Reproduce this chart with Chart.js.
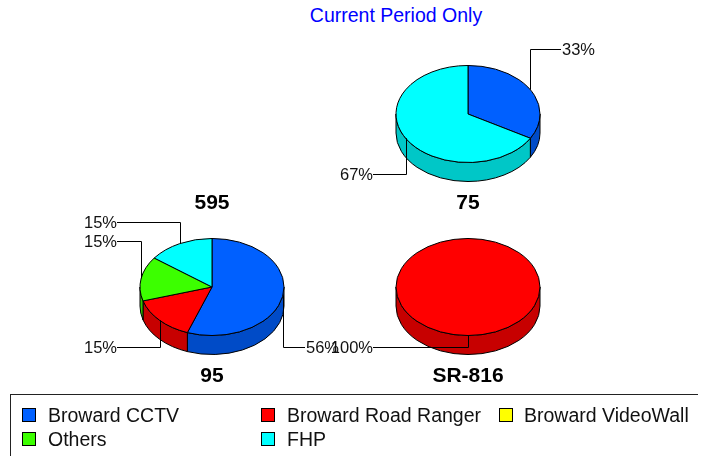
<!DOCTYPE html>
<html>
<head>
<meta charset="utf-8">
<title>Current Period Only</title>
<script src="https://cdn.jsdelivr.net/npm/chart.js@4.4.0/dist/chart.umd.min.js"></script>
<style>
    html, body { margin: 0; padding: 0; background: #fff; }
    body {
        position: relative;
        width: 707px;
        height: 456px;
        overflow: hidden;
        font-family: "Liberation Sans", Arial, sans-serif;
    }
    #title {
        position: absolute;
        left: 296px;
        top: 5px;
        width: 200px;
        text-align: center;
        color: #0000ff;
        font-size: 19.5px;
        line-height: 20px;
        white-space: nowrap;
    }
    .pie-canvas { position: absolute; left: 0; top: 0; }
    #legend {
        position: absolute;
        left: 10px;
        top: 394px;
        width: 687px;
        height: 70px;
        border-top: 1px solid #222;
        border-left: 1px solid #222;
    }
    .legend-swatch {
        position: absolute;
        width: 12px;
        height: 12px;
        border: 1px solid #000;
    }
    .legend-text {
        position: absolute;
        font-size: 19.5px;
        line-height: 20px;
        color: #111;
        white-space: nowrap;
    }
</style>
</head>
<body>
<div id="title">Current Period Only</div>
<canvas id="pie-595" class="pie-canvas" width="707" height="392"></canvas>
<canvas id="pie-75" class="pie-canvas" width="707" height="392"></canvas>
<canvas id="pie-95" class="pie-canvas" width="707" height="392"></canvas>
<canvas id="pie-sr816" class="pie-canvas" width="707" height="392"></canvas>
<div id="legend"></div>

<script>
(function () {
    'use strict';

    // Categories shared by every pie
    var categories = ['Broward CCTV', 'Broward Road Ranger', 'Broward VideoWall', 'Others', 'FHP'];

    // Counts per road, same order as categories
    var pieNames = ['595', '75', '95', 'SR-816'];
    var values595 = [0, 0, 0, 0, 0];
    var values75 = [1, 0, 0, 0, 2];
    var values95 = [15, 4, 0, 4, 4];
    var valuesSR816 = [0, 1, 0, 0, 0];

    // Slice colours (top face); side walls are a darker shade
    var sliceColors = ['#0060ff', '#ff0000', '#ffff00', '#3cff00', '#00ffff'];

    // Pie geometry
    var pieLayout = {
        radius: 72,      // horizontal radius
        tilt: 0.674,     // vertical squash of the top face
        depth: 19,       // wall height
        canvasW: 707,
        canvasH: 392
    };
    var pieCenters = [[212, 114], [468, 114], [212, 287], [468, 287]];

    var FONT = '"Liberation Sans", Arial, sans-serif';

    function shade(hex, f) {
        var n = parseInt(hex.slice(1), 16);
        var r = Math.round(((n >> 16) & 255) * f);
        var g = Math.round(((n >> 8) & 255) * f);
        var b = Math.round((n & 255) * f);
        return 'rgb(' + r + ',' + g + ',' + b + ')';
    }

    // Draws the arcs computed by the pie controller as a tilted 3D pie,
    // then the leader lines, percentages and the road name underneath
    var pie3d = {
        id: 'pie3d',
        beforeDatasetsDraw: function (chart) {
            var ctx = chart.ctx;
            var area = chart.chartArea;
            var arcs = chart.getDatasetMeta(0).data;
            var data = chart.data.datasets[0].data;
            var colors = chart.data.datasets[0].backgroundColor;
            var name = chart.options.plugins.pie3d.name;

            var cx = (area.left + area.right) / 2;
            var cy = (area.top + area.bottom) / 2;
            var a = arcs.length ? arcs[0].outerRadius : pieLayout.radius;
            var b = a * pieLayout.tilt;
            var d = pieLayout.depth;

            var total = data.reduce(function (s, v) { return s + v; }, 0);
            var slices = [];
            arcs.forEach(function (arc, i) {
                if (data[i] > 0 && arc.endAngle > arc.startAngle) {
                    slices.push({ s: arc.startAngle, e: arc.endAngle, color: colors[i], value: data[i] });
                }
            });

            ctx.save();
            ctx.lineWidth = 1;
            ctx.strokeStyle = '#000';
            ctx.lineJoin = 'round';

            // Side walls: only the front half of the rim (0..PI) is visible
            slices.forEach(function (sl) {
                var t1 = Math.max(sl.s, 0);
                var t2 = Math.min(sl.e, Math.PI);
                if (t2 <= t1) return;
                ctx.beginPath();
                ctx.ellipse(cx, cy, a, b, 0, t1, t2);
                ctx.lineTo(cx + a * Math.cos(t2), cy + d + b * Math.sin(t2));
                ctx.ellipse(cx, cy + d, a, b, 0, t2, t1, true);
                ctx.closePath();
                ctx.fillStyle = shade(sl.color, 0.78);
                ctx.fill();
                ctx.stroke();
            });

            // Top faces
            slices.forEach(function (sl) {
                ctx.beginPath();
                if (sl.e - sl.s >= Math.PI * 2 - 1e-6) {
                    ctx.ellipse(cx, cy, a, b, 0, 0, Math.PI * 2);
                } else {
                    ctx.moveTo(cx, cy);
                    ctx.ellipse(cx, cy, a, b, 0, sl.s, sl.e);
                    ctx.closePath();
                }
                ctx.fillStyle = sl.color;
                ctx.fill();
                ctx.stroke();
            });

            // Leader lines and percentage labels
            var labels = slices.map(function (sl) {
                var m = (sl.s + sl.e) / 2;
                return {
                    px: cx + a * Math.cos(m),
                    py: cy + b * Math.sin(m),
                    right: Math.cos(m) > 1e-6,
                    down: Math.sin(m) > 0,
                    text: Math.round(sl.value / total * 100) + '%'
                };
            });
            [[true, true], [true, false], [false, true], [false, false]].forEach(function (grp) {
                var list = labels.filter(function (l) { return l.right === grp[0] && l.down === grp[1]; });
                list.sort(function (p, q) { return grp[1] ? q.py - p.py : p.py - q.py; });
                list.forEach(function (l, k) {
                    l.ty = grp[1] ? cy + 59.5 - k * 19 : cy - 65 + k * 19;
                });
            });

            ctx.font = '16.5px ' + FONT;
            ctx.textBaseline = 'middle';
            ctx.fillStyle = '#111';
            labels.forEach(function (l) {
                var x0 = Math.round(l.px) + 0.5;
                var ty = Math.round(l.ty) + 0.5;
                var ex = l.right ? cx + a + 21 : cx - a - 23;
                ctx.beginPath();
                ctx.moveTo(x0, l.py);
                ctx.lineTo(x0, ty);
                ctx.lineTo(ex, ty);
                ctx.stroke();
                ctx.textAlign = l.right ? 'left' : 'right';
                ctx.fillText(l.text, l.right ? ex + 1 : ex, ty + 1);
            });

            // Road name under the pie
            ctx.font = 'bold 21px ' + FONT;
            ctx.textAlign = 'center';
            ctx.textBaseline = 'alphabetic';
            ctx.fillStyle = '#000';
            ctx.fillText(name, cx, cy + b + d + 27.5);

            ctx.restore();
            return false;
        }
    };

    function buildPie(canvasId, values, name, center) {
        var r = pieLayout.radius;
        return new Chart(document.getElementById(canvasId), {
            type: 'pie',
            data: {
                labels: categories,
                datasets: [{
                    data: values,
                    backgroundColor: sliceColors,
                    borderWidth: 0,
                    hoverBorderWidth: 0,
                    radius: r
                }]
            },
            options: {
                responsive: false,
                animation: false,
                devicePixelRatio: 1,
                events: [],
                layout: {
                    padding: {
                        left: center[0] - r,
                        right: pieLayout.canvasW - center[0] - r,
                        top: center[1] - r,
                        bottom: pieLayout.canvasH - center[1] - r
                    }
                },
                plugins: {
                    legend: { display: false },
                    tooltip: { enabled: false },
                    pie3d: { name: name }
                }
            },
            plugins: [pie3d]
        });
    }

    buildPie('pie-595', values595, pieNames[0], pieCenters[0]);
    buildPie('pie-75', values75, pieNames[1], pieCenters[1]);
    buildPie('pie-95', values95, pieNames[2], pieCenters[2]);
    buildPie('pie-sr816', valuesSR816, pieNames[3], pieCenters[3]);

    // Legend: three columns, two rows
    var legend = document.getElementById('legend');
    var swatchX = [22, 261, 499];
    var textX = [48, 287, 524];
    categories.forEach(function (label, i) {
        var col = i % 3;
        var row = Math.floor(i / 3);
        var sw = document.createElement('div');
        sw.className = 'legend-swatch';
        sw.style.left = (swatchX[col] - 11) + 'px';
        sw.style.top = (408 + row * 24 - 395) + 'px';
        sw.style.background = sliceColors[i];
        legend.appendChild(sw);

        var tx = document.createElement('div');
        tx.className = 'legend-text';
        tx.style.left = (textX[col] - 11) + 'px';
        tx.style.top = (405 + row * 24 - 395) + 'px';
        tx.textContent = label;
        legend.appendChild(tx);
    });
})();
</script>
</body>
</html>
